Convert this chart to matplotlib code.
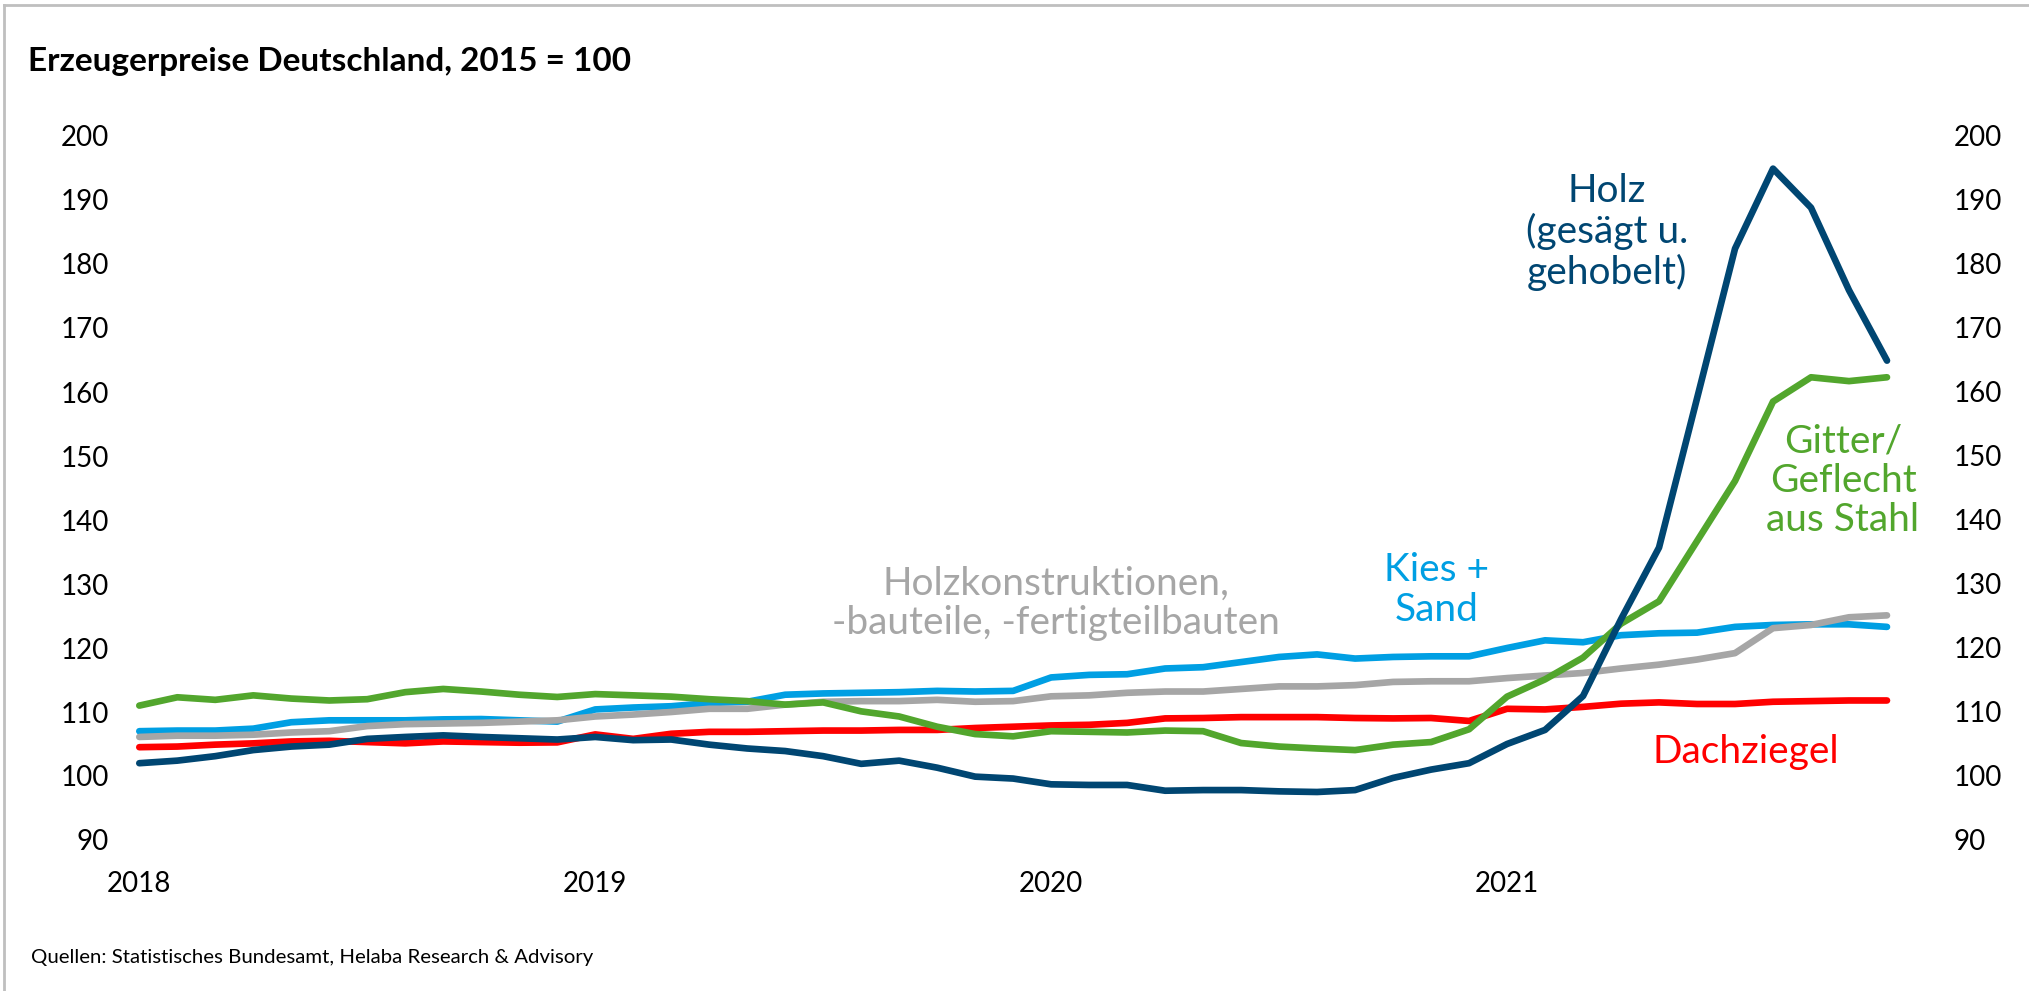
import matplotlib
matplotlib.use("Agg")
import matplotlib.pyplot as plt
from matplotlib.lines import Line2D

plt.rcParams['font.family'] = ['Lato', 'DejaVu Sans']

# Monthly index values, Jan 2018 .. Nov 2021 (2015 = 100)
holz = [102.0, 102.4, 103.1, 104.05, 104.6, 104.9, 105.8, 106.1, 106.35, 106.1, 105.9, 105.7,
        106.1, 105.6, 105.7, 104.9, 104.3, 103.9, 103.1, 101.9, 102.4, 101.3, 99.9, 99.6,
        98.7, 98.6, 98.6, 97.7, 97.8, 97.8, 97.6, 97.5, 97.8, 99.7, 101.0, 102.0,
        105.0, 107.2, 112.5, 124.5, 135.7, 159.0, 182.4, 194.9, 188.8, 175.9, 164.9]
gitter = [111.0, 112.3, 111.9, 112.6, 112.1, 111.8, 112.0, 113.1, 113.6, 113.2, 112.7, 112.35,
          112.8, 112.6, 112.4, 112.0, 111.7, 111.15, 111.5, 110.1, 109.3, 107.7, 106.55, 106.2,
          107.0, 106.9, 106.8, 107.1, 107.0, 105.15, 104.6, 104.3, 104.05, 104.9, 105.3, 107.3,
          112.4, 115.1, 118.5, 123.8, 127.3, 136.7, 146.1, 158.5, 162.3, 161.7, 162.3]
kies = [107.0, 107.1, 107.1, 107.4, 108.4, 108.7, 108.7, 108.7, 108.85, 108.9, 108.7, 108.5,
        110.4, 110.7, 110.9, 111.4, 111.6, 112.7, 112.9, 113.0, 113.1, 113.3, 113.2, 113.3,
        115.4, 115.8, 115.9, 116.8, 117.0, 117.8, 118.6, 119.0, 118.35, 118.6, 118.7, 118.7,
        120.0, 121.2, 120.9, 122.0, 122.3, 122.4, 123.3, 123.6, 123.7, 123.7, 123.3]
holzkon = [106.1, 106.3, 106.3, 106.45, 106.8, 107.0, 107.8, 108.1, 108.2, 108.3, 108.5, 108.7,
           109.3, 109.6, 110.0, 110.5, 110.5, 111.15, 111.6, 111.7, 111.7, 111.9, 111.6, 111.7,
           112.45, 112.6, 113.0, 113.2, 113.2, 113.6, 114.0, 114.0, 114.2, 114.7, 114.8, 114.8,
           115.3, 115.7, 116.1, 116.8, 117.4, 118.2, 119.2, 123.1, 123.6, 124.8, 125.1]
dach = [104.5, 104.6, 104.9, 105.1, 105.4, 105.5, 105.3, 105.1, 105.4, 105.3, 105.2, 105.25,
        106.5, 105.8, 106.6, 106.9, 106.9, 107.0, 107.1, 107.1, 107.2, 107.2, 107.5, 107.7,
        107.9, 108.0, 108.3, 109.0, 109.06, 109.2, 109.2, 109.2, 109.06, 109.0, 109.06, 108.6,
        110.5, 110.4, 110.8, 111.3, 111.5, 111.25, 111.25, 111.6, 111.7, 111.8, 111.8]

year_labels = ["2018", "2019", "2020", "2021"]
y_ticks = [90, 100, 110, 120, 130, 140, 150, 160, 170, 180, 190, 200]

C_NAVY = "#004672"
C_BLUE = "#009FE3"
C_GRAY = "#A6A6A6"
C_RED = "#FF0000"
C_GREEN = "#52A62D"

W, H = 2029, 991
fig = plt.figure(figsize=(W / 100, H / 100), dpi=100)

def fx(px):
    return px / W

def fy(py):
    return 1 - py / H

x0, x1 = 139.3, 1887.0
ytop, ybot = 136.0, 840.0
ax = fig.add_axes([fx(x0), fy(ybot), fx(x1) - fx(x0), fy(ytop) - fy(ybot)])
n = len(holz)
xs = list(range(n))
ax.set_xlim(0, n - 1)
ax.set_ylim(90, 200)

lw = 4.8
for series, col in [(kies, C_BLUE), (holzkon, C_GRAY), (dach, C_RED), (gitter, C_GREEN), (holz, C_NAVY)]:
    ax.plot(xs, series, color=col, lw=lw, solid_capstyle='round', solid_joinstyle='round', clip_on=False)

for s in ax.spines.values():
    s.set_visible(False)

ax.set_yticks(y_ticks)
ax.set_yticklabels([str(v) for v in y_ticks])
ax.tick_params(axis='y', length=0, labelsize=20, pad=22, labelcolor='black')
ax.set_xticks([0, 12, 24, 36])
ax.set_xticklabels(year_labels)
ax.tick_params(axis='x', length=0, labelsize=20, pad=22)

ax2 = ax.twinx()
ax2.set_ylim(90, 200)
ax2.set_yticks(y_ticks)
ax2.set_yticklabels([str(v) for v in y_ticks])
ax2.tick_params(axis='y', length=0, labelsize=20, pad=48)
for s in ax2.spines.values():
    s.set_visible(False)

# Frame lines (top and left)
fig.add_artist(Line2D([fx(4), fx(4)], [fy(5), fy(991)], color="#BFBFBF", lw=2))
fig.add_artist(Line2D([fx(4), fx(2029)], [fy(5), fy(5)], color="#BFBFBF", lw=2))

fig.text(fx(28), fy(61), "Erzeugerpreise Deutschland, 2015 = 100", fontsize=24, fontweight='bold',
         ha='left', va='center', color='black')
fig.text(fx(31), fy(958), "Quellen: Statistisches Bundesamt, Helaba Research & Advisory",
         fontsize=14.7, ha='left', va='center', color='black')

lab = dict(fontsize=28, ha='center', va='center', linespacing=1.12)
fig.text(fx(1607), fy(232), "Holz\n(gesägt u.\ngehobelt)", color=C_NAVY, **lab)
fig.text(fx(1843), fy(481), "Gitter/\nGeflecht\naus Stahl", color=C_GREEN, **lab)
fig.text(fx(1437), fy(590), "Kies +\nSand", color=C_BLUE, **lab)
fig.text(fx(1056), fy(603), "Holzkonstruktionen,\n-bauteile, -fertigteilbauten", color=C_GRAY, **lab)
fig.text(fx(1746), fy(752), "Dachziegel", color=C_RED, **lab)

fig.savefig("out.png", dpi=100)
